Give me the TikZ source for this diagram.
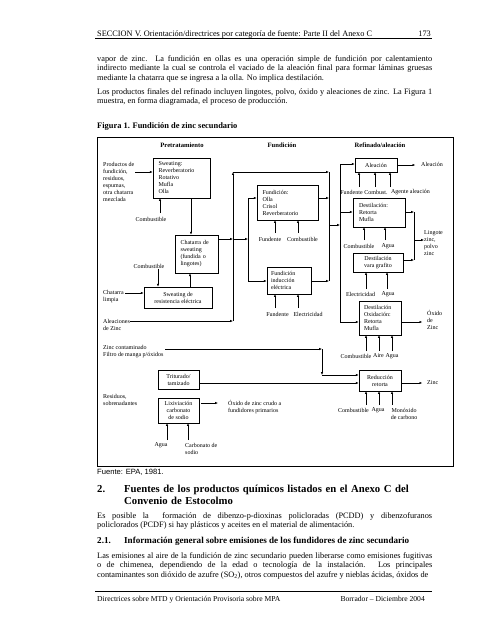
\documentclass[tikz,border=0pt]{standalone}
\usepackage{fontspec}
\setmainfont{Liberation Serif}
\newfontfamily\arialfam{Liberation Sans}
\usetikzlibrary{arrows.meta}
\hbadness=10000
\newcommand\diag{\fontsize{6}{7}\selectfont}
\newcommand\bodyfont{\fontsize{8.3}{9.6}\selectfont}
\tikzset{
  box/.style={draw, line width=.6pt, inner sep=0pt, align=center, font=\diag},
  lbl/.style={inner sep=0pt, align=left, font=\diag},
  hdr/.style={inner sep=0pt, font=\fontsize{6.6}{7}\selectfont\bfseries},
  flow/.style={-{Latex[length=2.8pt,width=2.2pt]}, line width=.45pt},
  wire/.style={line width=.45pt},
  para/.style={inner sep=0pt, text width=335pt, align=justify, font=\bodyfont, anchor=base west},
}
\begin{document}
\begin{tikzpicture}[x=1pt, y=-1pt]
\path[fill=white, use as bounding box] (0,0) rectangle (495,640);

% page header
\node[inner sep=0pt, anchor=base west, font=\bodyfont] (head) at (97,36) {SECCION V. Orientación/directrices por categoría de fuente: Parte II del Anexo C};
\node[inner sep=0pt, anchor=base east, font=\bodyfont] (pagenum) at (431,36) {173};
\draw[line width=.7pt] (95,38.5) -- (432,38.5);

% text before the figure
\node[para] (par1) at (97,61) {vapor de zinc. La fundición en ollas es una operación simple de fundición por calentamiento\linebreak indirecto mediante la cual se controla el vaciado de la aleación final para formar láminas gruesas\linebreak mediante la chatarra que se ingresa a la olla. No implica destilación.};
\node[para] (par2) at (97,94) {Los productos finales del refinado incluyen lingotes, polvo, óxido y aleaciones de zinc. La Figura 1\linebreak muestra, en forma diagramada, el proceso de producción.};
\node[inner sep=0pt, anchor=base west, font=\fontsize{8.4}{9}\selectfont\bfseries] (figtitle) at (97,128) {Figura 1. Fundición de zinc secundario};

% figure frame and column titles
\draw[line width=.7pt] (97,137) rectangle (453,466);
\node[hdr] (colpre) at (182,145) {Pretratamiento};
\node[hdr] (colfun) at (282,145) {Fundición};
\node[hdr] (colref) at (380,145) {Refinado/aleación};

% process boxes
\node[box, minimum width=57pt, minimum height=40pt, text width=46pt, align=left] (sweat) at (181.5,178) {Sweating:\\Reverberatorio\\Rotativo\\Mufla\\Olla};
\node[box, minimum width=43pt, minimum height=38pt, text width=32pt, align=left] (chat) at (196.5,254) {Chatarra de\\sweating\\(fundida o\\lingotes)};
\node[box, minimum width=68pt, minimum height=21pt] (resist) at (178,297.5) {Sweating de\\resistencia eléctrica};
\node[box, minimum width=61pt, minimum height=35pt, text width=50pt, align=left] (olla) at (287.5,202.5) {Fundición:\\Olla\\Crisol\\Reverberatorio};
\node[box, minimum width=44pt, minimum height=27pt, text width=36pt, align=left] (induc) at (289,280.5) {Fundición\\inducción\\eléctrica};
\node[box, minimum width=42pt, minimum height=14pt] (aleac) at (376,165) {Aleación};
\node[box, minimum width=52pt, minimum height=29pt, text width=40pt, align=left] (retorta) at (379,212.5) {Destilación:\\Retorta\\Mufla};
\node[box, minimum width=50pt, minimum height=19pt] (vara) at (378,262.5) {Destilación\\vara grafito};
\node[box, minimum width=42pt, minimum height=34pt, text width=32pt, align=left] (oxid) at (380,318) {Destilación\\Oxidación:\\Retorta\\Mufla};
\node[box, minimum width=42pt, minimum height=21pt] (reduc) at (380,380.5) {Reducción\\retorta};
\node[box, minimum width=41pt, minimum height=19pt] (trit) at (178.5,379.5) {Triturado/\\tamizado};
\node[box, minimum width=41pt, minimum height=25pt] (lixiv) at (178.5,410.5) {Lixiviación\\carbonato\\de sodio};

% labels
\node[lbl, anchor=west] (prod) at (103,181.5) {Productos de\\fundición,\\residuos,\\espumas,\\otra chatarra\\mezclada};
\node[lbl] (comb1) at (151,219) {Combustible};
\node[lbl] (comb2) at (149,266) {Combustible};
\node[lbl, anchor=west] (limpia) at (103,297) {Chatarra\\limpia};
\node[lbl, anchor=west] (aleaz) at (103,324.5) {Aleaciones\\de Zinc};
\node[lbl, anchor=west] (zcont) at (103,352) {Zinc contaminado\\Filtro de manga p/óxidos};
\node[lbl, anchor=west] (resid) at (103,399.5) {Residuos,\\sobrenadantes};
\node[lbl] (fund1) at (270,239) {Fundente};
\node[lbl] (comb3) at (302.5,239) {Combustible};
\node[lbl] (fund2) at (277.5,314) {Fundente};
\node[lbl] (elec1) at (308,314) {Electricidad};
\node[lbl, anchor=west] (aleout) at (421,164) {Aleación};
\node[lbl] (fund3) at (351.5,192) {Fundente};
\node[lbl] (comb4) at (376,192) {Combust.};
\node[lbl] (agente) at (410.5,192) {Agente aleación};
\node[lbl, anchor=west] (lingote) at (424,243) {Lingote\\zinc,\\polvo\\zinc};
\node[lbl] (comb5) at (359,246) {Combustible};
\node[lbl] (agua1) at (388,246) {Agua};
\node[lbl] (elec2) at (360.5,294) {Electricidad};
\node[lbl] (agua2) at (388,294) {Agua};
\node[lbl, anchor=west] (oxout) at (427,320) {Óxido\\de\\Zinc};
\node[lbl] (comb6) at (356,356) {Combustible};
\node[lbl] (aire) at (378.5,356) {Aire};
\node[lbl] (agua3) at (392,356) {Agua};
\node[lbl, anchor=west] (zincout) at (427,383) {Zinc};
\node[lbl] (comb7) at (353.5,410) {Combustible};
\node[lbl] (agua4) at (378,410) {Agua};
\node[lbl, align=center] (monox) at (404,413.5) {Monóxido\\de carbono};
\node[lbl, anchor=west] (crudo) at (228,407) {Óxido de zinc crudo a\\fundidores primarios};
\node[lbl] (agua5) at (161,445) {Agua};
\node[lbl, anchor=west] (carbon) at (185,448.5) {Carbonato de\\sodio};

% junction points
\coordinate (p0) at (135,172);
\coordinate (al0) at (130,321);
\coordinate (jA) at (233,321);
\coordinate (jAt) at (233,172);
\coordinate (jC) at (329,172);
\coordinate (jB) at (248,239);
\coordinate (bT) at (248,198);
\coordinate (bB) at (248,281);
\coordinate (cB) at (329,281);
\coordinate (cM) at (329,225);
\coordinate (dM) at (340,225);
\coordinate (dT) at (340,164);
\coordinate (dR) at (340,212);
\coordinate (dB) at (340,322);
\coordinate (lT) at (414,212);
\coordinate (lM) at (414,240);
\coordinate (lB) at (414,260);
\coordinate (z0) at (165,349);
\coordinate (z1) at (322,349);
\coordinate (z2) at (322,375);
\coordinate (t0) at (199,383);
\coordinate (x0) at (201,403);
\coordinate (x1) at (218,403);
\coordinate (limp0) at (125,293);

% pretreatment
\draw[flow] (p0) -- (p0 -| sweat.west);
\draw[flow] (160,213) -- (160,198);
\draw[flow] (sweat.south -| 191,0) -- (chat.north -| 191,0);
\draw[flow] (158,269) -- (resist.north -| 158,0);
\draw[flow] (resist.north -| 190,0) -- (chat.south -| 190,0);
\draw[flow] (limp0) -- (limp0 -| resist.west);
\draw[flow] (al0) -- (jA);
\draw[flow] (jA) -- (jAt);
\draw[flow] (jAt) -- (jC);
\draw[flow] (jB -| chat.east) -- (jB -| jA);
\draw[flow] (jB -| jA) -- (jB);

% melting
\draw[wire] (bT) -- (bB);
\draw[flow] (bT) -- (bT -| olla.west);
\draw[flow] (bB) -- (bB -| induc.west);
\draw[wire] (jC) -- (cB);
\draw[flow] (bT -| olla.east) -- (bT -| jC);
\draw[flow] (bB -| induc.east) -- (cB);
\draw[flow] (cM) -- (dM);
\foreach \x in {275,298} {
  \draw[flow] (\x,233) -- (\x,220);
  \draw[flow] (\x,308) -- (\x,294);
}

% refining
\draw[wire] (dT) -- (dB);
\draw[flow] (dT) -- (dT -| aleac.west);
\draw[flow] (dR) -- (dR -| retorta.west);
\draw[flow] (dB) -- (dB -| oxid.west);
\draw[flow] (aleac.east) -- ++(18,0);
\draw[flow] (lT -| retorta.east) -- (lT);
\draw[flow] (lB -| vara.east) -- (lB);
\draw[wire] (lT) -- (lB);
\draw[flow] (lM) -- (lM -| lingote.west);
\draw[flow] (dB -| oxid.east) -- ++(21,0);
\foreach \x in {359,375,390} \draw[flow] (\x,187) -- (\x,172);
\draw[flow] (364,240) -- (364,227);
\draw[flow] (385,240) -- (385,227);
\draw[flow] (366,289) -- (366,272);
\draw[flow] (387,289) -- (387,272);
\foreach \x in {366,379,392} {
  \draw[flow] (\x,351) -- (\x,335);
  \draw[flow] (\x,405) -- (\x,391);
}

% residue treatment
\draw[flow] (z0) -- (z1);
\draw[flow] (z1) -- (z2);
\draw[flow] (z2) -- (z2 -| reduc.west);
\draw[flow] (t0) -- (t0 -| reduc.west);
\draw[flow] (t0 -| reduc.east) -- ++(21,0);
\draw[flow] (x0) -- (x1);
\draw[flow] (167,440) -- (167,423);
\draw[flow] (188,440) -- (188,423);

% text after the figure
\node[inner sep=0pt, anchor=base west, font=\fontsize{7.6}{9}\arialfam] (source) at (97,474) {Fuente: EPA, 1981.};
\node[inner sep=0pt, anchor=base west, font=\fontsize{10.7}{12}\selectfont\bfseries] (sec2num) at (97,492) {2.};
\node[inner sep=0pt, anchor=base west, text width=320pt, align=left, font=\fontsize{10.7}{12}\selectfont\bfseries] (sec2) at (124,492) {Fuentes de los productos químicos listados en el Anexo C del\\Convenio de Estocolmo};
\node[para] (par3) at (97,518) {Es posible la\ \ formación de dibenzo-p-dioxinas policloradas (PCDD) y dibenzofuranos\linebreak policlorados (PCDF) si hay plásticos y aceites en el material de alimentación.};
\node[inner sep=0pt, anchor=base west, font=\fontsize{9.1}{10}\selectfont\bfseries] (sec21num) at (97,543.5) {2.1.};
\node[inner sep=0pt, anchor=base west, font=\fontsize{9.1}{10}\selectfont\bfseries] (sec21) at (124,543.5) {Información general sobre emisiones de los fundidores de zinc secundario};
\node[para] (par4) at (97,558) {\parfillskip=0pt\relax Las emisiones al aire de la fundición de zinc secundario pueden liberarse como emisiones fugitivas\linebreak o de chimenea, dependiendo de la edad o tecnología de la instalación. Los principales\linebreak contaminantes son dióxido de azufre (SO\textsubscript{2}), otros compuestos del azufre y nieblas ácidas, óxidos de};

% page footer
\draw[line width=.7pt] (95,591) -- (432,591);
\node[inner sep=0pt, anchor=base west, font=\fontsize{7.6}{9}\selectfont] (foot1) at (97,601) {Directrices sobre MTD y Orientación Provisoria sobre MPA};
\node[inner sep=0pt, anchor=base east, font=\fontsize{7.6}{9}\selectfont] (foot2) at (425,601) {Borrador – Diciembre 2004};
\end{tikzpicture}
\end{document}
